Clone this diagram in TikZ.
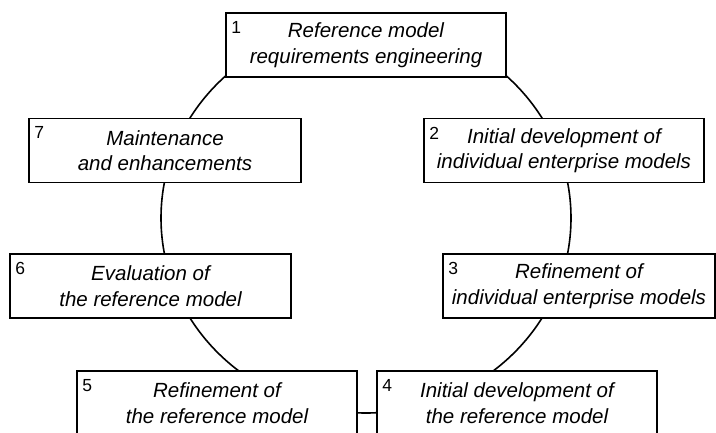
\documentclass[tikz,border=0pt]{standalone}
\usepackage{fontspec}
\setmainfont{Liberation Sans}
\begin{document}
\begin{tikzpicture}[x=1pt,y=-1pt,
  phase/.style={draw, line width=1.6pt, fill=white, minimum width=280pt, minimum height=64pt, inner sep=0pt, align=center, font=\fontsize{20.5}{25.5}\selectfont\itshape},
  num/.style={anchor=north west, inner sep=0pt, font=\fontsize{17.5}{17.5}\selectfont}]
\useasboundingbox (0,0) rectangle (716,432);
% the cycle behind the phases
\coordinate (ctr) at (366,218);
\draw [line width=1.6pt] (ctr) ellipse [x radius=205, y radius=195];
% phases
\node[phase] (p1) at (366,45) {Reference model\\requirements engineering};
\node[phase] (p2) at (564,150.5) {Initial development of\\individual enterprise models};
\node[phase, minimum width=272pt] (p3) at (579,286) {Refinement of\\individual enterprise models};
\node[phase] (p4) at (517,403) {Initial development of\\the reference model};
\node[phase] (p5) at (217,403) {Refinement of\\the reference model};
\node[phase, minimum width=281pt] (p6) at (150.5,286) {Evaluation of\\the reference model};
\node[phase, minimum width=272pt] (p7) at (165,150.5) {Maintenance\\and enhancements};
% numbers
\node[num] (n1) at ([shift={(6,9)}]p1.north west) {1};
\node[num] (n2) at ([shift={(6,9)}]p2.north west) {2};
\node[num] (n3) at ([shift={(6,9)}]p3.north west) {3};
\node[num] (n4) at ([shift={(6,9)}]p4.north west) {4};
\node[num] (n5) at ([shift={(6,9)}]p5.north west) {5};
\node[num] (n6) at ([shift={(6,9)}]p6.north west) {6};
\node[num] (n7) at ([shift={(6,9)}]p7.north west) {7};
\end{tikzpicture}
\end{document}
